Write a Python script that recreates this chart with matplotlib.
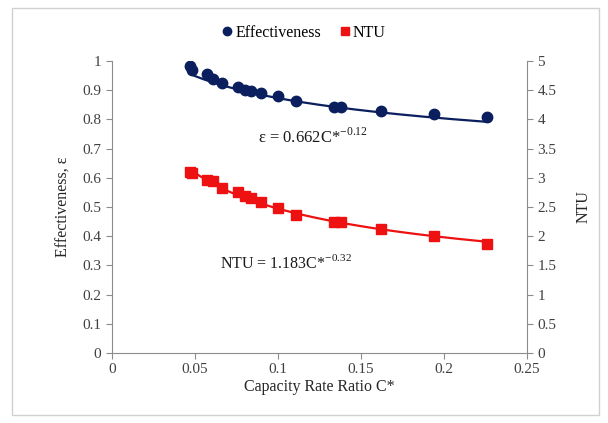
import matplotlib
matplotlib.use('Agg')
import matplotlib.pyplot as plt
import numpy as np
from matplotlib.patches import Rectangle

plt.rcParams['font.family'] = ['Liberation Serif', 'DejaVu Serif']
plt.rcParams['mathtext.fontset'] = 'custom'
plt.rcParams['mathtext.rm'] = 'Liberation Serif'
plt.rcParams['axes.unicode_minus'] = False

# capacity rate ratio C* and measured values
c_star = [0.047, 0.048, 0.057, 0.061, 0.066, 0.076, 0.080, 0.084, 0.090, 0.100,
          0.111, 0.134, 0.138, 0.162, 0.194, 0.226]
effectiveness = [0.983, 0.969, 0.955, 0.937, 0.924, 0.910, 0.901, 0.897, 0.891, 0.880,
                 0.864, 0.843, 0.843, 0.830, 0.818, 0.807]
ntu = [3.10, 3.08, 2.96, 2.95, 2.82, 2.76, 2.68, 2.65, 2.59, 2.48,
       2.36, 2.25, 2.25, 2.13, 2.00, 1.87]

# power trendlines y = a * C*^b
eff_fit = (0.662, -0.12)
ntu_fit = (1.183, -0.32)

navy = '#0b1f5e'
red = '#ee1111'
axis_gray = '#8c8c8c'

fig = plt.figure(figsize=(6.08, 4.23), dpi=100)
fig.patches.append(Rectangle((0.02, 0.02), 0.965, 0.96, transform=fig.transFigure,
                             fill=False, edgecolor='#d0d0d0', linewidth=1))
ax = fig.add_axes([0.184, 0.1655, 0.683, 0.6905])
ax2 = ax.twinx()

xs = np.linspace(min(c_star), max(c_star), 200)
ax.plot(xs, eff_fit[0] * xs ** eff_fit[1], color=navy, lw=1.6, zorder=2)
ax.plot(c_star, effectiveness, 'o', color=navy, ms=7.5, zorder=3, label='Effectiveness')
ax2.plot(xs, ntu_fit[0] * xs ** ntu_fit[1], color=red, lw=1.6, zorder=2)
ax2.plot(c_star, ntu, 's', color=red, ms=7, zorder=3, label='NTU')

ax.set_xlim(0, 0.25)
ax.set_ylim(0, 1)
ax2.set_ylim(0, 5)
ax.set_xticks(np.arange(0, 0.26, 0.05))
ax.set_xticklabels(['0', '0.05', '0.1', '0.15', '0.2', '0.25'])
ax.set_yticks(np.arange(0, 1.01, 0.1))
ax.set_yticklabels(['0', '0.1', '0.2', '0.3', '0.4', '0.5', '0.6', '0.7', '0.8', '0.9', '1'])
ax2.set_yticks(np.arange(0, 5.01, 0.5))
ax2.set_yticklabels(['0', '0.5', '1', '1.5', '2', '2.5', '3', '3.5', '4', '4.5', '5'])

for a in (ax, ax2):
    a.spines['top'].set_visible(False)
    for s in ('left', 'right', 'bottom'):
        a.spines[s].set_color(axis_gray)
    a.tick_params(colors=axis_gray, labelcolor='#404040', labelsize=11, length=4, width=0.8)
ax.spines['right'].set_visible(False)
ax2.spines['left'].set_visible(False)
ax2.spines['bottom'].set_visible(False)

ax.set_xlabel('Capacity Rate Ratio C*', fontsize=11.5, color='#262626', labelpad=2)
ax.set_ylabel('Effectiveness, ε', fontsize=11.5, color='#262626', labelpad=8)
ax2.set_ylabel('NTU', fontsize=11.5, color='#262626', labelpad=14)

ax.text(0.088, 0.72, r'ε = 0.662C*$^{\mathregular{-0.12}}$', fontsize=12, color='#1a1a1a')
ax.text(0.065, 0.29, r'NTU = 1.183C*$^{\mathregular{-0.32}}$', fontsize=11.5, color='#1a1a1a')

h1, l1 = ax.get_legend_handles_labels()
h2, l2 = ax2.get_legend_handles_labels()
fig.legend(h1 + h2, l1 + l2, loc='center', bbox_to_anchor=(0.5, 0.922), ncol=2,
           frameon=False, fontsize=11.5, handlelength=0.6, handletextpad=0.2,
           columnspacing=1.2, markerscale=0.8)

fig.savefig('out.png', dpi=100)
